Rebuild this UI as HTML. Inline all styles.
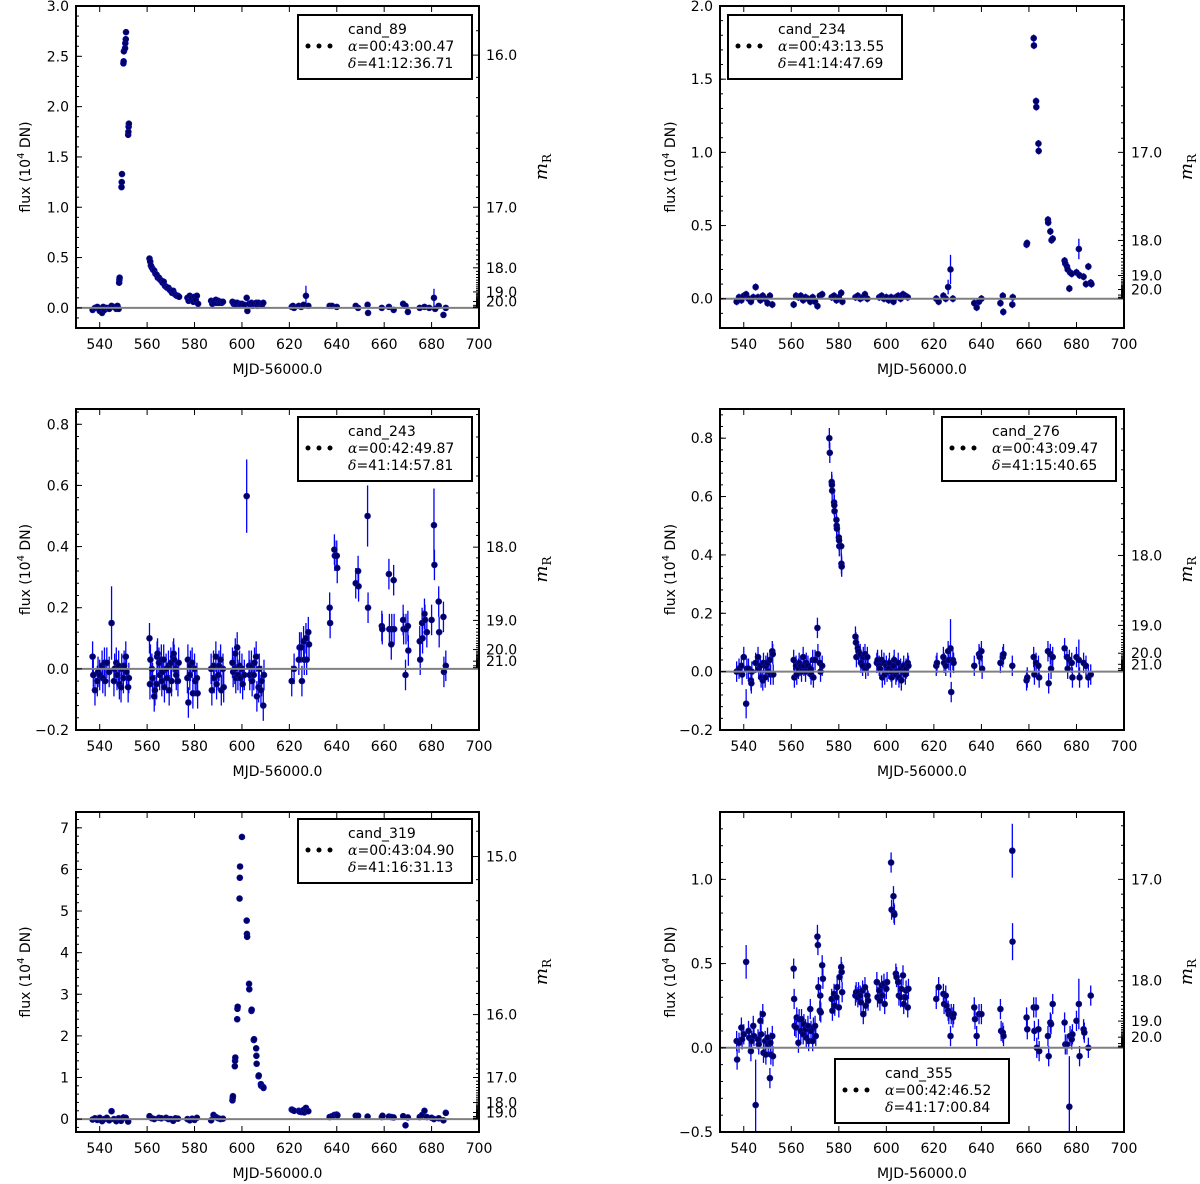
<!DOCTYPE html>
<html><head><meta charset="utf-8"><title>Light curves</title>
<style>
html,body{margin:0;padding:0;background:#fff;}
svg{display:block;font-family:"DejaVu Sans","Liberation Sans",sans-serif;}
</style></head>
<body>
<svg id="fig" width="1200" height="1184" viewBox="0 0 1200 1184" xmlns="http://www.w3.org/2000/svg"></svg>
<script>
// ---- data: [mjd-56000, flux(1e4 DN), optional error] ----
const c89 = [[537,-0.02],[538,0],[539,0.01],[540,-0.03],[541,-0.05],[541.5,0.01],[542,-0.02],[543,0],[544,-0.01],[545,0.02],[546,0.01],[547,-0.01],[547.5,0.02],[548,-0.01],
[548.2,0.25],[548.3,0.28],[548.4,0.3],[549.2,1.2],[549.3,1.25],[549.4,1.33],[550,2.43],[550.1,2.45],[550.2,2.55],[550.7,2.58],[550.8,2.63],[551,2.67],[551.1,2.74],[552,1.72],[552.1,1.75],[552.2,1.8],[552.3,1.83],
[561,0.49],[561.3,0.46],[561.6,0.42],[562,0.4],[562.5,0.38],[563,0.37],[563.5,0.34],[564,0.33],[564.5,0.3],[565,0.3],[565.5,0.28],[566,0.27],[566.5,0.25],[567,0.26],[567.5,0.22],[568,0.21],[568.5,0.2],[569,0.2],[569.5,0.18],[570,0.17],[570.5,0.15],[571,0.17],[571.5,0.14],[572,0.13],[572.5,0.12],[573,0.12],[573.5,0.11],
[577,0.1],[577.5,0.07],[578,0.12],[578.5,0.08],[579,0.1],[579.5,0.06],[580,0.11],[580.5,0.08],[581,0.12],[581.5,0.04],
[587,0.07],[587.5,0.04],[588,0.06],[588.5,0.05],[589,0.08],[589.5,0.05],[590,0.07],[590.5,0.05],[591,0.06],[591.5,0.05],[592,0.06],
[596,0.06],[596.5,0.04],[597,0.05],[597.5,0.03],[598,0.05],[599,0.04],[599.5,0.03],[600,0.04],[601,0.03],[602,0.1],[602.3,-0.03],[603,0.04],[604,0.05],[604.5,0.02],[605,0.04],[606,0.05],[606.5,0.02],[607,0.05],[608,0.04],[608.5,0.03],[609,0.05],
[621,0.01],[621.5,0.02],[622,0],[624,0.02],[625,0.01],[626,0.03],[627,0.12,0.1],[628,0.02],[637,0.02],[638,0.02],[640,0.01],[648,0.02],[649,0],[653,0.03],[653.2,-0.05],[659,0],[662,0.01],[664,-0.02],[668,0.04],[669,0.02],[670,-0.04],[675,0],[677,0.01],[679,0],[681,0.1,0.09],[681.5,-0.01],[683,0.02],[685,-0.07],[686,0]];

const c234 = [[537,-0.02],[538,0.01],[539,-0.01],[540,0.02],[541,0.03],[542,0],[543,-0.02],[544,0.01],[545,0.08],[546,0.01],[547,-0.01],[548,0.02],[549,0],[550,-0.03],[551,0.02],[552,-0.04],
[561,-0.04],[562,0.02],[563,0.01],[564,0.02],[565,-0.01],[566,0.01],[567,0],[568,-0.02],[569,0.01],[570,-0.02],[571,-0.05],[572,0.02],[573,0.03],
[577,0.01],[578,0.02],[579,-0.01],[580,0.01],[581,0.04],[581.5,-0.02],[587,0.01],[588,0.02],[589,0],[590,0.01],[591,0.03],[592,0],
[597,0.01],[598,0.02],[599,0],[600,0.01],[601,-0.01],[602,0.01],[603,-0.02],[604,0.01],[605,0.02],[606,0],[607,0.03],[608,0.02],[609,0.01],
[621,0],[622,-0.02],[624,0.02],[625,0],[626,0.08,0.05],[627,0.2,0.1],[628,0],[637,-0.03],[638,-0.06],[639,-0.02],[640,0],[648,-0.03],[649,0.02],[649.2,-0.09],[653,-0.04],[653.2,0.01],
[659,0.37],[659.2,0.38],[662,1.78],[662.1,1.73],[663,1.35],[663.1,1.31],[664,1.06],[664.1,1.01],[668,0.54],[668.1,0.52],[669,0.46],[669.5,0.4],[670,0.41],[675,0.26],[675.3,0.24],[676,0.22],[676.3,0.2],[677,0.07],[677.3,0.18],[678,0.17],[680,0.18],[681,0.34,0.07],[681.3,0.16],[683,0.15],[684,0.1],[685,0.22],[686,0.11],[686.3,0.1]];

const c243 = [[537,0.04],[537.3,-0.02],[538,-0.07],[539,-0.04],[539.3,-0.01],[540,-0.02],[541,0.01],[541.3,-0.03],[542,0.02],[542.3,-0.04],[543,0.02],[544,-0.01],[545,0.15,0.12],[546,-0.04],[546.3,0],[547,0.02],[547.3,-0.02],[548,0.01],[548.3,-0.05],[549,-0.06],[549.3,0],[550,-0.03],[550.3,0.01],[551,0.04],[551.3,-0.01],[552,-0.06],[552.3,-0.03],
[561,0.1],[561.2,-0.05],[561.4,0.03],[562,0],[562.3,-0.03],[563,-0.09],[563.3,-0.07],[564,-0.05],[564.2,0.04],[564.4,0.05],[565,0.02],[565.3,-0.02],[566,0.03],[566.2,-0.04],[566.4,-0.01],[567,0.03],[567.3,-0.06],[568,0],[568.3,-0.03],[569,0.01],[569.3,-0.07],[570,0.02],[570.3,-0.04],[571,0.04],[571.2,0.05],[571.4,0.03],[572,0],[572.3,-0.02],[573,-0.04],[573.3,0.02],
[577,-0.03],[577.2,0.03],[577.4,-0.11],[578,-0.02],[578.3,0.01],[579,0.02],[579.3,-0.08],[580,0],[580.3,-0.04],[581,-0.03],[581.3,-0.08],
[587,0],[587.3,-0.07],[588,0.01],[588.3,-0.03],[589,0.04],[589.3,-0.05],[590,-0.02],[590.3,0.01],[591,0.03],[591.3,-0.07],[592,0],[592.3,-0.06],
[596,0.02],[596.3,-0.01],[597,0],[597.2,0.05],[597.4,-0.03],[598,0.07],[598.3,-0.02],[599,0.01],[599.3,-0.03],[600,0],[600.3,-0.05],[601,-0.02],[602,0.565,0.12],[603,0.01],[603.3,-0.02],[604,0.01],[604.3,-0.04],[605,-0.02],[605.3,0.02],[606,0.04],[606.3,-0.09],[607,-0.06],[607.3,0],[608,-0.07],[608.3,-0.04],[609,-0.12],[609.3,-0.02],
[621,-0.04],[622,0],[624,0.03],[624.3,0.07],[625,0.07],[625.3,-0.04],[626,0.09],[626.3,0.03],[627,0.1],[627.3,0.03],[628,0.12],[628.3,0.08],
[637,0.2],[637.2,0.15],[639,0.39],[639.2,0.37],[640,0.37],[640.2,0.33],[648,0.28],[649,0.32],[649.2,0.27],[653,0.5,0.1],[653.2,0.2],[659,0.14],[659.2,0.13],[662,0.31],[662.2,0.13],[663,0.08],[663.2,0.13],[664,0.29],[664.2,0.13],[668,0.16],[668.2,0.13],[669,-0.02],[669.2,0.13],[670,0.14],[670.2,0.06],[675,0.09],[675.2,0.03],[676,0.15],[676.2,0.1],[677,0.18],[677.2,0.16],[678,0.12],[680,0.16],[681,0.47,0.12],[681.2,0.34],[683,0.22],[683.2,0.12],[685,0.17],[685.2,-0.01],[686,0.01]];

const c276 = [[537,0],[538,0.01],[539,0.02],[539.3,-0.01],[540,0.05],[541,-0.11,0.05],[541.3,0.01],[542,0.01],[543,-0.03],[543.2,-0.04],[543.4,0],[545,0.03],[546,0.05],[546.3,0.01],[547,0.02],[547.3,-0.02],[548,-0.03],[548.3,0.03],[549,-0.02],[549.3,0.02],[550,0.03],[550.3,0],[551,0.04],[551.3,-0.01],[552,0.07],[552.2,0.06],[552.4,-0.01],
[561,0.04],[561.3,-0.02],[562,0.02],[562.3,-0.01],[563,0.01],[563.3,0.03],[564,0.02],[564.3,0],[565,0.05],[565.3,0.02],[566,0],[566.3,0.03],[567,0.02],[568,0.01],[568.3,-0.01],[569,0.04],[569.3,-0.02],[570,0.04],[571,0.15],[571.2,0.06],[572,0.03],[572.3,0],[573,0.02],
[576,0.8],[576.2,0.75],[577,0.65],[577.1,0.64],[577.2,0.62],[578,0.58],[578.1,0.57],[578.2,0.55],[579,0.52],[579.1,0.5],[579.2,0.49],[580,0.46],[580.1,0.45],[580.2,0.43],[581,0.43],[581.1,0.37],[581.2,0.36],
[587,0.12],[587.2,0.1],[587.4,0.05],[588,0.08],[588.3,0.07],[589,0.06],[589.3,0.03],[590,0.02],[590.3,0.05],[591,0.06],[591.3,0.01],[592,0.05],[592.3,0.02],
[596,0.03],[596.3,0.04],[597,0.02],[597.3,0.01],[598,0.04],[598.3,-0.02],[599,0.03],[599.3,-0.01],[600,0.02],[600.3,0],[601,0.01],[601.3,0.03],[602,0],[602.3,-0.02],[603,0.02],[603.3,0.04],[604,-0.01],[604.3,0],[605,0.03],[605.3,-0.02],[606,0.01],[606.3,-0.03],[607,0],[607.3,0.02],[608,-0.01],[608.3,0.01],[609,0.03],[609.3,0.02],
[621,0.02],[621.3,0.03],[624,0.05],[624.3,0.03],[625,0.02],[626,0.07],[626.3,0.04],[627,0.08,0.1],[627.3,-0.07],[628,0.04],[628.3,0.03],
[637,0.02],[639,0.06],[639.3,0.05],[640,0.07],[640.3,0.01],[648,0.03],[649,0.05],[649.3,0.06],[653,0.02],[659,-0.03],[659.3,-0.02],[662,0.05],[662.3,-0.01],[663,0.03],[664,0.02],[664.3,-0.02],[668,0.07],[668.3,-0.04],[669,0.06],[669.3,0.01],[670,0.05],[675,0.08],[676,0.05],[676.3,0.01],[677,0.04],[678,0.03],[678.3,-0.02],[680,0.05],[681,0.04,0.07],[681.3,-0.02],[683,0.03],[684,0.02],[685,-0.02],[686,-0.01]];

const c319 = [[537,-0.01],[538,0.02],[539,-0.02],[540,0.03],[541,-0.05],[542,0],[543,0.03],[544,-0.03],[545,0.19],[546,0],[547,-0.05],[548,0.02],[549,-0.04],[550,0.04],[551,0.03],[552,-0.06],
[561,0.07],[562,0.02],[563,0],[565,0.03],[566,0.02],[568,0.03],[569,0],[570,0],[571,-0.04],[572,0.02],[573,0.01],
[577,0],[578,-0.03],[579,0.01],[580,-0.02],[581,0.03],[587,-0.03],[588,0.1],[589,0.05],[590,0.02],[591,0],[592,0.01],
[596,0.45],[596.1,0.5],[596.2,0.55],[597,1.27],[597.1,1.4],[597.2,1.48],[598,2.4],[598.1,2.65],[598.2,2.7],[599,5.3],[599.1,5.8],[599.2,6.07],[600,6.78],[602,4.77],[602.1,4.45],[602.2,4.38],[603,3.25],[603.1,3.12],[604,2.6],[604.1,2.63],[605,1.9],[605.1,1.92],[606,1.7],[606.1,1.52],[606.2,1.33],[607,1.03],[607.1,1.05],[608,0.84],[608.1,0.8],[609,0.77],[609.1,0.75],
[621,0.23],[621.3,0.22],[622,0.2],[624,0.2],[624.3,0.18],[625,0.17],[626,0.22],[626.3,0.16],[627,0.27],[627.3,0.2],[628,0.19],
[637,0.05],[638,0.07],[639,0.1],[640,0.11],[640.3,0.09],[648,0.08],[649,0.08],[653,0.06],[659,0.05],[659.3,0.08],[662,0.06],[663,0.05],[664,0.04],[668,0.07],[669,-0.15],[670,0.04],[675,0.05],[676,0.1],[677,0.2],[678,0.05],[680,0.03],[681,0],[683,0.02],[685,-0.03],[686,0.15]];

const c355 = [[537,0.04],[537.2,-0.07],[538,0.03],[539,0.12],[539.3,0.05],[540,0.08],[541,0.51,0.1],[542,0.1],[542.3,0.06],[543,-0.02],[543.3,0.04],[544,0.13],[544.3,0.07],[545,-0.34,0.27],[546,0.05],[546.3,0.02],[547,0.16],[547.3,0.08],[548,0.2],[548.3,-0.03],[549,0.04],[549.3,-0.04],[550,0.06],[550.3,0.02],[551,-0.18],[551.2,0.03],[551.4,-0.04],[552,0.07],[552.3,-0.05],
[561,0.47],[561.2,0.29],[561.4,0.13],[562,0.12],[562.3,0.18],[563,0.03],[563.3,0.17],[564,0.1],[564.3,0.17],[565,0.08],[565.3,0.14],[566,0.11],[566.3,0.06],[567,0.13],[567.3,0.04],[568,0.23],[568.3,0.1],[569,0.04],[569.3,0.12],[570,0.13],[570.3,0.07],[571,0.66,0.07],[571.2,0.61],[571.4,0.36],[572,0.22],[572.2,0.31],[572.4,0.21],[573,0.49],[573.3,0.41],
[577,0.29],[577.3,0.22],[578,0.32],[578.3,0.25],[579,0.3],[579.3,0.36],[580,0.24],[580.3,0.42],[581,0.48],[581.2,0.45],[581.4,0.33],
[587,0.31],[587.3,0.33],[588,0.3],[588.3,0.33],[589,0.31],[589.3,0.27],[590,0.34],[590.3,0.2],[591,0.36],[591.3,0.25],[592,0.31],[592.3,0.28],[596,0.39],[596.3,0.3],[597,0.34],[597.3,0.28],[598,0.37],[598.3,0.31],[599,0.38],[599.3,0.26],[600,0.35],[600.3,0.39],
[602,1.1],[602.2,0.82],[603,0.9],[603.2,0.8],[603.4,0.79],[604,0.44],[604.3,0.42],[605,0.39],[605.3,0.31],[606,0.3],[606.3,0.35],[607,0.43],[607.3,0.26],[608,0.3],[608.3,0.34],[609,0.24],[609.3,0.35],
[621,0.29],[622,0.36],[624,0.32],[624.3,0.26],[625,0.31],[625.3,0.25],[626,0.22],[626.3,0.2],[627,0.07],[627.3,0.2],[628,0.18],[628.3,0.2],[637,0.24],[637.3,0.17],[638,0.07],[639,0.2],[640,0.2],[648,0.23],[648.3,0.1],[649,0.09],[649.3,0.07],[653,1.17,0.16],[653.1,0.63,0.11],
[659,0.18],[659.3,0.11],[662,0.24],[662.3,0.1],[663,0.24],[663.3,0],[664,0.11],[664.3,-0.02],[668,0.07],[668.3,-0.05],[669,0.15],[669.3,0.14],[670,0.26],[675,0.15],[675.3,0.02],[676,0.02],[677,-0.35,0.3],[677.3,0.07],[678,0.05],[678.3,0.08],[680,0.16],[681,0.26,0.15],[681.3,-0.05],[683,0.11],[683.3,0.09],[685,0],[686,0.31]];

const xTicks = [540,560,580,600,620,640,660,680,700];
const names = ['cand_89','cand_234','cand_243','cand_276','cand_319','cand_355'];
const raList = ['00:43:00.47','00:43:13.55','00:42:49.87','00:43:09.47','00:43:04.90','00:42:46.52'];
const decList = ['41:12:36.71','41:14:47.69','41:14:57.81','41:15:40.65','41:16:31.13','41:17:00.84'];
const yMins = [-0.2,-0.2,-0.2,-0.2,-0.31,-0.5];
const yMaxs = [3.0,2.0,0.85,0.9,7.38,1.4];
const yTickLists = [[0,0.5,1,1.5,2,2.5,3],[0,0.5,1,1.5,2],[-0.2,0,0.2,0.4,0.6,0.8],[-0.2,0,0.2,0.4,0.6,0.8],[0,1,2,3,4,5,6,7],[-0.5,0,0.5,1.0]];
const magLabelLists = [[16,17,18,19,20],[17,18,19,20],[18,19,20,21],[18,19,20,21],[15,16,17,18,19],[17,18,19,20]];
const seriesList = [c89,c234,c243,c276,c319,c355];

// ---- layout (not data) ----
const boxes = [
 {L:76,R:479,T:6,B:328, ylab:30, defE:0.02, lx:298, ly:15},
 {L:720,R:1124,T:6,B:328, ylab:675, defE:0.025, lx:728, ly:15},
 {L:76,R:479,T:409,B:730, ylab:30, defE:0.05, lx:298, ly:417},
 {L:720,R:1124,T:409,B:730, ylab:675, defE:0.035, lx:942, ly:417},
 {L:76,R:479,T:812,B:1132, ylab:30, defE:0.03, lx:298, ly:819},
 {L:720,R:1124,T:812,B:1132, ylab:675, defE:0.06, lx:835, ly:1059}
];
const ZP = 17.0;
const NS = 'http://www.w3.org/2000/svg';
const svg = document.getElementById('fig');
function mk(tag, attrs, parent, text){
  const el = document.createElementNS(NS, tag);
  for (const k in attrs) el.setAttribute(k, attrs[k]);
  if (text !== undefined) el.textContent = text;
  (parent||svg).appendChild(el);
  return el;
}
function fmt(v, i){
  if (i===4) return String(Math.round(v));
  const s = v.toFixed(1);
  return s.startsWith('-') ? '\u2212' + s.slice(1) : s;
}

boxes.forEach((b, i) => {
  const ymin = yMins[i], ymax = yMaxs[i], data = seriesList[i];
  const xs = v => b.L + (v - 530) / 170 * (b.R - b.L);
  const ys = v => b.B - (v - ymin) / (ymax - ymin) * (b.B - b.T);
  const g = mk('g', {});
  
  
  const clipId = 'clip' + i;
  const cp = mk('clipPath', {id: clipId}, g);
  mk('rect', {x:b.L, y:b.T, width:b.R-b.L, height:b.B-b.T}, cp);

  // data
  const dg = mk('g', {'clip-path': 'url(#' + clipId + ')'}, g);
  
  
  data.forEach(d => {
    const e = d.length > 2 ? d[2] : b.defE;
    const eb = mk('line', {x1:xs(d[0]), x2:xs(d[0]), y1:ys(d[1]-e), y2:ys(d[1]+e), stroke:'#0000ff', 'stroke-width':1.3}, dg);
    
    
  });
  data.forEach(d => {
    const c = mk('circle', {cx:xs(d[0]), cy:ys(d[1]), r:3, fill:'#000060', stroke:'#1010b0', 'stroke-width':0.6}, dg);
    
    
  });
  const zl = mk('line', {x1:b.L, x2:b.R, y1:ys(0), y2:ys(0), stroke:'#808080', 'stroke-width':2}, g);
  
  

  // x ticks
  xTicks.forEach(t => {
    const x = xs(t);
    mk('line', {x1:x, x2:x, y1:b.B, y2:b.B-6, stroke:'#000', 'stroke-width':1}, g);
    mk('line', {x1:x, x2:x, y1:b.T, y2:b.T+6, stroke:'#000', 'stroke-width':1}, g);
    const tl = mk('text', {x:x, y:b.B+21, 'text-anchor':'middle', 'font-size':14}, g, String(t));
    
    
  });
  const xl = mk('text', {x:(b.L+b.R)/2, y:b.B+46, 'text-anchor':'middle', 'font-size':14}, g, 'MJD-56000.0');
  
  

  // y ticks
  const yt = yTickLists[i];
  const step = yt[1] - yt[0], mstep = step / 5;
  for (let v = Math.ceil((ymin)/mstep - 1e-6)*mstep; v <= ymax + 1e-9; v += mstep) {
    const y = ys(v);
    mk('line', {x1:b.L, x2:b.L+3, y1:y, y2:y, stroke:'#000', 'stroke-width':1}, g);
  }
  yt.forEach(v => {
    const y = ys(v);
    mk('line', {x1:b.L, x2:b.L+6, y1:y, y2:y, stroke:'#000', 'stroke-width':1}, g);
    const tl = mk('text', {x:b.L-7, y:y+5, 'text-anchor':'end', 'font-size':14}, g, fmt(v, i));
    
    
  });
  const yl = mk('text', {x:b.ylab, y:(b.T+b.B)/2, 'text-anchor':'middle', 'font-size':14, transform:'rotate(-90 ' + b.ylab + ' ' + (b.T+b.B)/2 + ')'}, g);
  
  
  yl.appendChild(document.createTextNode('flux (10'));
  mk('tspan', {'font-size':10, dy:-6}, yl, '4');
  mk('tspan', {dy:6}, yl, ' DN)');

  // right magnitude axis
  const fmaxMag = ZP - 2.5*Math.log10(ymax);
  for (let m = Math.ceil(fmaxMag*10)/10; m <= 23.0001; m += 0.1) {
    const f = Math.pow(10, (ZP - m)/2.5);
    const y = ys(f);
    if (y < b.T || y > b.B) continue;
    const major = Math.abs(m - Math.round(m)) < 1e-6;
    mk('line', {x1:b.R, x2:b.R-(major?6:3), y1:y, y2:y, stroke:'#000', 'stroke-width':1}, g);
  }
  magLabelLists[i].forEach(m => {
    const y = ys(Math.pow(10, (ZP - m)/2.5));
    const tl = mk('text', {x:b.R+7, y:y+5, 'font-size':14}, g, m.toFixed(1));
    
    
  });
  const mx = b.R + 68, my = (b.T+b.B)/2;
  const ml = mk('text', {x:mx, y:my, 'text-anchor':'middle', 'font-size':18, 'font-family':'"DejaVu Serif","Liberation Serif",serif', transform:'rotate(-90 ' + mx + ' ' + my + ')'}, g);
  
  
  mk('tspan', {'font-style':'italic'}, ml, 'm');
  mk('tspan', {'font-size':12, dy:4}, ml, 'R');

  // frame
  const fr = mk('rect', {x:b.L, y:b.T, width:b.R-b.L, height:b.B-b.T, fill:'none', stroke:'#000', 'stroke-width':2}, g);
  
  

  // legend
  const lg = mk('g', {}, g);
  
  
  mk('rect', {x:b.lx, y:b.ly, width:174, height:64, fill:'#fff', stroke:'#000', 'stroke-width':2}, lg);
  [10, 21, 32].forEach(dx => mk('circle', {cx:b.lx+dx, cy:b.ly+31, r:2.5, fill:'#000'}, lg));
  const tx = b.lx + 50;
  mk('text', {x:tx, y:b.ly+19, 'font-size':14}, lg, names[i]);
  const t2 = mk('text', {x:tx, y:b.ly+36, 'font-size':14}, lg);
  mk('tspan', {'font-style':'italic', 'font-family':'"DejaVu Serif",serif'}, t2, '\u03b1');
  t2.appendChild(document.createTextNode('=' + raList[i]));
  const t3 = mk('text', {x:tx, y:b.ly+53, 'font-size':14}, lg);
  mk('tspan', {'font-style':'italic', 'font-family':'"DejaVu Serif",serif'}, t3, '\u03b4');
  t3.appendChild(document.createTextNode('=' + decList[i]));
});
</script>
</body></html>
